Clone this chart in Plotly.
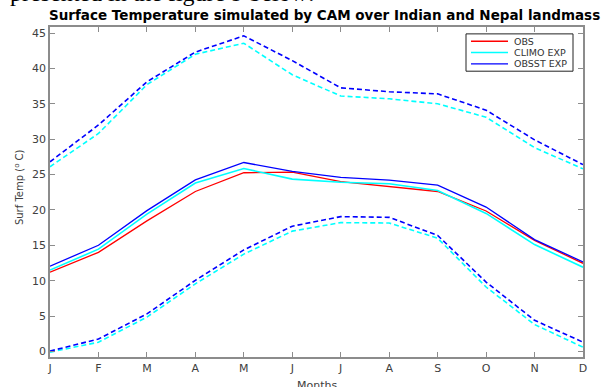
import plotly.graph_objects as go

months = ["J", "F", "M", "A", "M", "J", "J", "A", "S", "O", "N", "D"]
month_idx = list(range(1, 13))

obs = [11.2, 14.0, 18.45, 22.6, 25.25, 25.35, 24.0, 23.35, 22.6, 19.85, 15.7, 12.45]
climo = [11.5, 14.45, 19.4, 23.8, 25.85, 24.35, 23.9, 23.7, 22.75, 19.5, 15.1, 11.9]
obsst = [12.05, 15.0, 19.9, 24.25, 26.7, 25.45, 24.6, 24.2, 23.5, 20.4, 15.8, 12.65]

climo_upper = [26.1, 30.8, 37.7, 42.0, 43.55, 39.1, 36.1, 35.7, 35.0, 33.1, 28.8, 25.8]
obsst_upper = [26.8, 32.0, 38.1, 42.3, 44.6, 41.1, 37.25, 36.7, 36.4, 34.1, 29.9, 26.4]
climo_lower = [-0.1, 1.3, 4.85, 9.55, 13.75, 17.0, 18.2, 18.15, 16.0, 9.1, 3.8, 0.6]
obsst_lower = [0.05, 1.75, 5.3, 10.05, 14.35, 17.7, 19.05, 18.95, 16.4, 9.8, 4.4, 1.3]

series_names = ["OBS", "CLIMO EXP", "OBSST EXP"]
yticks = [0, 5, 10, 15, 20, 25, 30, 35, 40, 45]

RED, CYAN, BLUE = "#ff0000", "#00ffff", "#0000ff"
series_colors = [RED, CYAN, BLUE]
series_widths = [1.3, 1.6, 1.3]
DASH = "5px,3px"

# plot area in pixels
L, R, T, B = 50, 583, 27, 363
W, H = R - L, B - T


def px_x(p):
    return (p - L) / W


def px_y(p):
    return (B - p) / H


fig = go.Figure()
for vals, name, col, wd in zip([obs, climo, obsst], series_names, series_colors, series_widths):
    fig.add_trace(go.Scatter(x=month_idx, y=vals, mode="lines", name=name,
                             line=dict(color=col, width=wd)))
for vals, col in [(climo_upper, CYAN), (obsst_upper, BLUE), (climo_lower, CYAN), (obsst_lower, BLUE)]:
    fig.add_trace(go.Scatter(x=month_idx, y=vals, mode="lines", showlegend=False,
                             line=dict(color=col, width=1.6, dash=DASH)))

axis_common = dict(showline=True, linecolor="#8c8c8c", linewidth=1.5, mirror="ticks",
                   ticks="inside", ticklen=5, tickcolor="#8c8c8c", tickwidth=1,
                   showgrid=False, zeroline=False,
                   tickfont=dict(family="DejaVu Sans", size=11, color="#404040"))

# manual compact legend (box, sample lines, labels)
shapes = [dict(type="rect", xref="paper", yref="paper",
               x0=px_x(466), x1=px_x(573), y0=px_y(72), y1=px_y(34),
               line=dict(color="#222222", width=1), fillcolor="white", layer="above")]
annotations = []
row_y = [41.5, 53, 64.5]
for name, col, wd, ry in zip(series_names, series_colors, series_widths, row_y):
    shapes.append(dict(type="line", xref="paper", yref="paper",
                       x0=px_x(471), x1=px_x(508), y0=px_y(ry), y1=px_y(ry),
                       line=dict(color=col, width=wd), layer="above"))
    annotations.append(dict(text=name, xref="paper", yref="paper",
                            x=px_x(512), y=px_y(ry), xanchor="left", yanchor="middle",
                            showarrow=False,
                            font=dict(family="DejaVu Sans", size=9.5, color="#333333")))

annotations += [
    dict(text="<b>Surface Temperature simulated by CAM over Indian and Nepal landmass</b>",
         xref="paper", yref="paper", x=px_x(324), y=px_y(15), xanchor="center", yanchor="middle",
         showarrow=False, font=dict(family="DejaVu Sans", size=13.5, color="black")),
    dict(text="Surf Temp (<sup>o</sup> C)", xref="paper", yref="paper",
         x=px_x(19), y=px_y(190), xanchor="center", yanchor="middle",
         textangle=-90, showarrow=False,
         font=dict(family="DejaVu Sans", size=10, color="#404040")),
    dict(text="Months", xref="paper", yref="paper", x=0.5, y=px_y(383),
         xanchor="center", yanchor="top", showarrow=False,
         font=dict(family="DejaVu Sans", size=11, color="#404040")),
    dict(text="presented in the figure 9 below:", xref="paper", yref="paper",
         x=px_x(8), y=px_y(-8), xanchor="left", yanchor="middle",
         showarrow=False, font=dict(family="Liberation Serif", size=24, color="black")),
]

fig.update_layout(
    width=610, height=387,
    margin=dict(l=L, r=610 - R, t=T, b=387 - B),
    paper_bgcolor="white", plot_bgcolor="white",
    xaxis=dict(range=[1, 12], tickvals=month_idx, ticktext=months, **axis_common),
    yaxis=dict(range=[-0.79, 45.85], tickvals=yticks, **axis_common),
    showlegend=False,
    shapes=shapes,
    annotations=annotations,
)

fig.write_html("out.html")
